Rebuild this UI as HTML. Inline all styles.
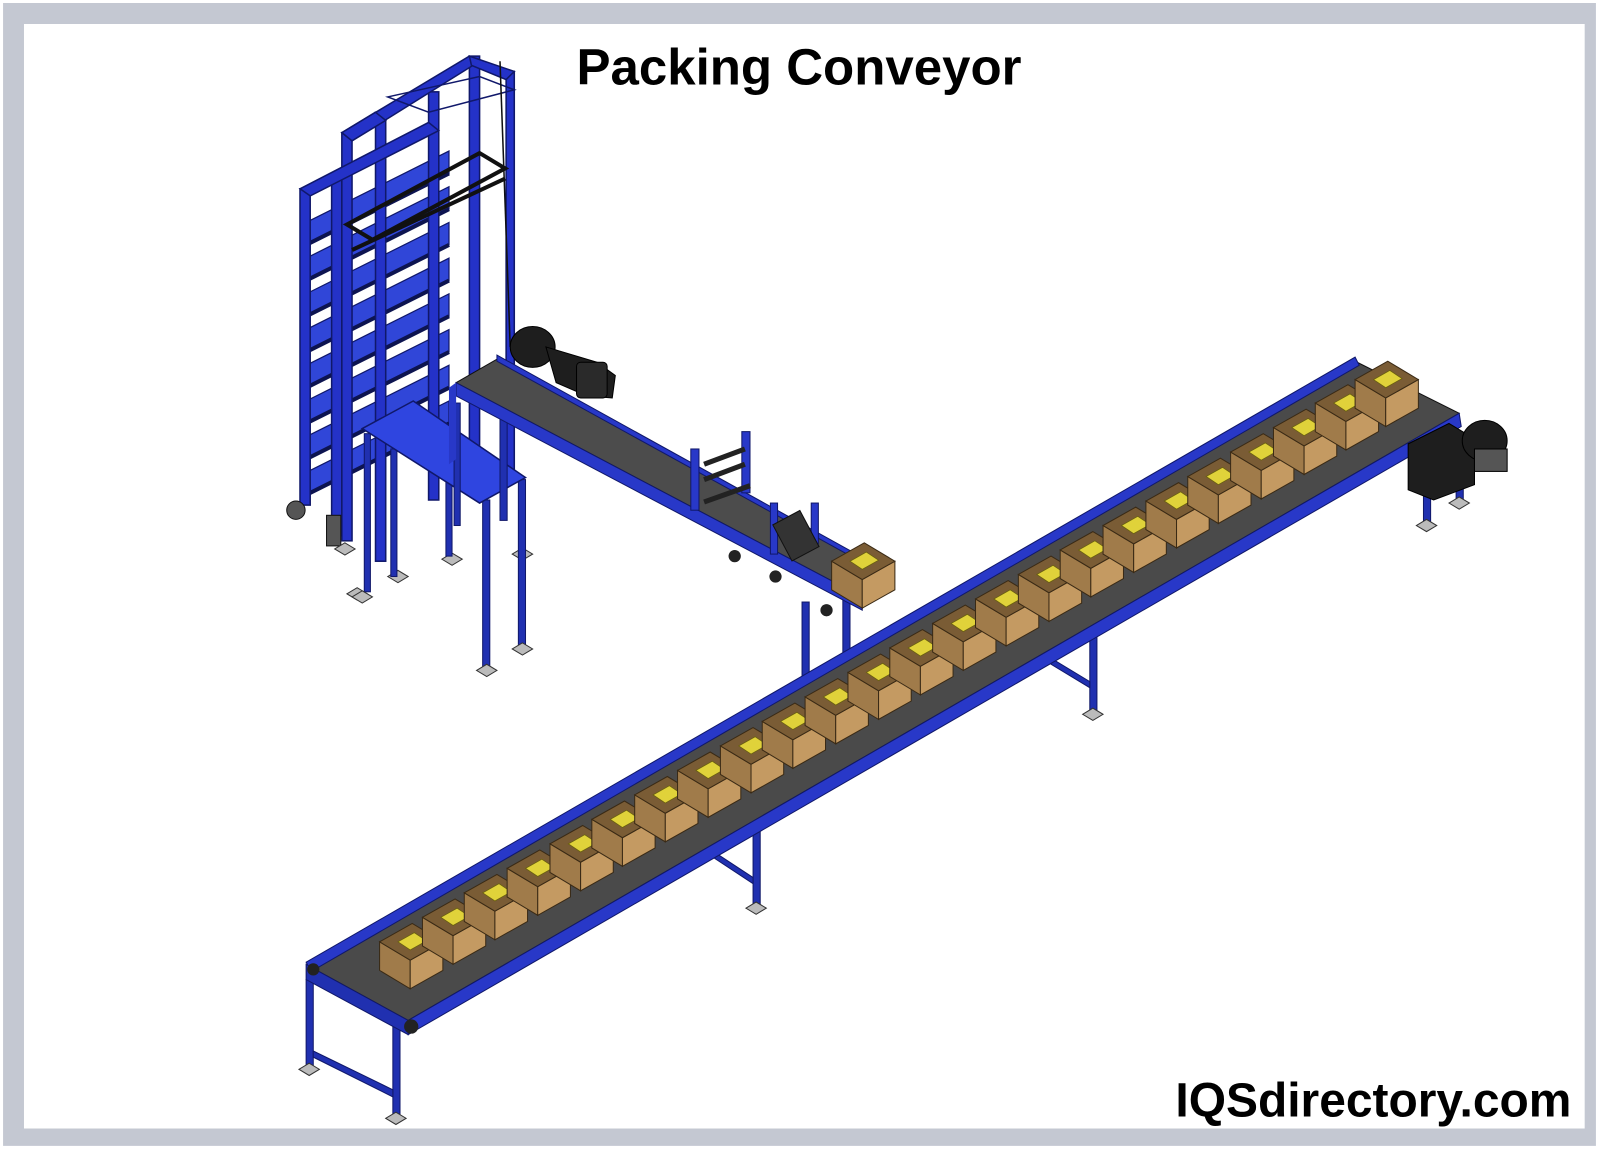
<!DOCTYPE html>
<html><head><meta charset="utf-8"><style>
html,body{margin:0;padding:0;background:#fff}
#w{position:relative;width:1600px;height:1151px;overflow:hidden;background:#fff}
</style></head><body><div id="w">
<svg width="1600" height="1151" viewBox="0 0 1568 1128" preserveAspectRatio="none" xmlns="http://www.w3.org/2000/svg">
<defs>
<g id="box">
<polygon points="0,-30 30,-12 30,16 0,-2" fill="#a07b4a" stroke="#3a2a15" stroke-width="1"/>
<polygon points="30,-12 62,-30 62,-2 30,16" fill="#c49a62" stroke="#3a2a15" stroke-width="1"/>
<polygon points="0,-30 32,-48 62,-30 30,-12" fill="#7a5c35" stroke="#3a2a15" stroke-width="1"/>
<polygon points="18,-30 34,-39 46,-31 30,-22" fill="#e0d23a" stroke="#6a6010" stroke-width="0.8"/>
</g>
<g id="foot"><polygon points="-10,0 0,-6 10,0 0,6" fill="#bbb" stroke="#333" stroke-width="1"/></g>
<g id="shelf"><polygon points="0,0 140,-70 140,-48 0,22" fill="#3046d8" stroke="#10186a" stroke-width="1.2"/><line x1="0" y1="22" x2="140" y2="-48" stroke="#0d1450" stroke-width="4"/></g>
</defs>
<rect x="0" y="0" width="1568" height="1128" fill="#fff"/>
<path fill="#c4c8d2" fill-rule="evenodd" d="M3 3 H1564 V1123 H3 Z M23.5 23.5 V1106 H1553 V23.5 Z"/>

<!-- tower -->
<use href="#shelf" x="300" y="218"/><use href="#shelf" x="300" y="253"/>
<use href="#shelf" x="300" y="288"/><use href="#shelf" x="300" y="323"/>
<use href="#shelf" x="300" y="358"/><use href="#shelf" x="300" y="393"/>
<use href="#shelf" x="300" y="428"/><use href="#shelf" x="300" y="463"/>
<g stroke="#10186a" stroke-width="1.5" fill="#2432c8">
<rect x="294" y="185" width="10" height="310"/>
<rect x="325" y="175" width="10" height="350"/>
<rect x="335" y="130" width="10" height="400"/>
<rect x="368" y="110" width="10" height="440"/>
<rect x="420" y="90" width="10" height="400"/>
<rect x="460" y="55" width="10" height="420"/>
<rect x="496" y="70" width="8" height="400"/>
<polygon points="335,130 460,55 470,60 345,138"/>
<polygon points="335,130 345,138 378,118 368,110"/>
<polygon points="294,185 420,120 430,128 304,192"/>
<polygon points="460,55 504,70 496,78 462,64"/>
<polygon points="380,95 470,75 504,88 420,110" fill="none"/>
</g>
<g stroke="#111" stroke-width="4" fill="none">
<polygon points="340,220 470,150 495,165 365,235"/>
<line x1="345" y1="245" x2="495" y2="175"/><line x1="490" y1="60" x2="500" y2="340" stroke-width="1.5"/>
</g>
<circle cx="290" cy="500" r="9" fill="#555" stroke="#111"/>
<rect x="320" y="505" width="14" height="30" fill="#555" stroke="#111"/>
<use href="#foot" x="338" y="538"/><use href="#foot" x="350" y="582"/><use href="#foot" x="390" y="565"/>
<use href="#foot" x="443" y="548"/><use href="#foot" x="512" y="543"/>

<!-- table -->
<g fill="#2030b0" stroke="#10186a">
<rect x="357" y="425" width="6" height="155"/><rect x="383" y="440" width="6" height="125"/>
<rect x="473" y="490" width="7" height="165"/><rect x="508" y="470" width="7" height="165"/>
<rect x="437" y="420" width="6" height="125"/>
</g>
<polygon points="355,420 405,393 515,468 470,493" fill="#2f45e0" stroke="#10186a" stroke-width="1.5"/>
<use href="#foot" x="355" y="585"/><use href="#foot" x="477" y="657"/><use href="#foot" x="512" y="636"/>

<g fill="#2030b0" stroke="#10186a">
<rect x="490" y="400" width="7" height="110"/><rect x="445" y="395" width="6" height="120"/>
<rect x="786" y="590" width="7" height="80"/><rect x="826" y="585" width="7" height="65"/>
</g>
<polygon points="487,352 870,565 845,585 447,375" fill="#4c4c4c" stroke="#111"/>
<polygon points="447,375 845,585 845,598 447,388" fill="#2838c8" stroke="#10186a"/>
<polygon points="487,348 870,560 872,566 487,354" fill="#2838c8" stroke="#10186a"/>
<polygon points="440,380 447,375 447,450 440,455" fill="#2838c8"/>
<g fill="#2838c8" stroke="#10186a">
<rect x="677" y="440" width="8" height="60"/><rect x="727" y="423" width="8" height="60"/>
<rect x="755" y="493" width="7" height="50"/><rect x="795" y="493" width="7" height="40"/>
</g>
<g stroke="#222" stroke-width="5"><line x1="690" y1="455" x2="730" y2="440"/><line x1="690" y1="470" x2="730" y2="455"/><line x1="690" y1="492" x2="735" y2="476"/></g>
<rect x="765" y="505" width="30" height="40" fill="#333" stroke="#111" transform="rotate(-28 780 525)"/>
<use href="#box" x="815" y="580"/>
<circle cx="720" cy="545" r="6" fill="#222"/><circle cx="760" cy="565" r="6" fill="#222"/><circle cx="810" cy="598" r="6" fill="#222"/>
<g fill="#1e1e1e" stroke="#000">
<ellipse cx="522" cy="340" rx="22" ry="20"/>
<polygon points="535,340 585,355 603,368 600,390 575,388 545,375"/>
<rect x="565" y="355" width="30" height="35" rx="4" fill="#2a2a2a"/>
</g>

<g fill="#2030b0" stroke="#10186a">
<rect x="300" y="960" width="7" height="85"/><rect x="385" y="1005" width="7" height="88"/>
<polygon points="307,1030 385,1068 385,1075 307,1036"/>
<rect x="738" y="810" width="7" height="78"/><rect x="1068" y="620" width="7" height="78"/>
<polygon points="700,835 738,860 738,866 700,841"/><polygon points="1030,645 1068,668 1068,674 1030,651"/>
<rect x="1395" y="465" width="7" height="48"/><rect x="1427" y="460" width="7" height="30"/>
</g>
<use href="#foot" x="303" y="1048"/><use href="#foot" x="388" y="1096"/>
<use href="#foot" x="741" y="890"/><use href="#foot" x="1071" y="700"/>
<use href="#foot" x="1398" y="515"/><use href="#foot" x="1430" y="493"/>

<polygon points="305,948 1330,355 1430,405 400,1000" fill="#4a4a4a" stroke="#111"/>
<polygon points="400,1000 1430,405 1432,418 400,1014" fill="#2838c8" stroke="#10186a"/>
<polygon points="300,943 1328,350 1332,358 305,952" fill="#2838c8" stroke="#10186a"/>
<polygon points="300,945 305,948 400,1000 400,1014 300,960" fill="#2030b0" stroke="#10186a"/>
<circle cx="403" cy="1006" r="7" fill="#222"/><circle cx="307" cy="950" r="6" fill="#222"/>

<use href="#box" x="372" y="953"/><use href="#box" x="414" y="929"/><use href="#box" x="455" y="905"/>
<use href="#box" x="497" y="881"/><use href="#box" x="539" y="857"/><use href="#box" x="580" y="833"/>
<use href="#box" x="622" y="809"/><use href="#box" x="664" y="785"/><use href="#box" x="706" y="761"/>
<use href="#box" x="747" y="737"/><use href="#box" x="789" y="713"/><use href="#box" x="831" y="689"/>
<use href="#box" x="872" y="665"/><use href="#box" x="914" y="641"/><use href="#box" x="956" y="617"/>
<use href="#box" x="998" y="593"/><use href="#box" x="1039" y="569"/><use href="#box" x="1081" y="545"/>
<use href="#box" x="1123" y="521"/><use href="#box" x="1164" y="497"/><use href="#box" x="1206" y="473"/>
<use href="#box" x="1248" y="449"/><use href="#box" x="1289" y="425"/><use href="#box" x="1328" y="402"/>

<g fill="#1e1e1e" stroke="#000">
<polygon points="1380,435 1420,415 1445,430 1445,475 1405,490 1380,480"/>
<ellipse cx="1455" cy="432" rx="22" ry="20"/>
<rect x="1445" y="440" width="32" height="22" fill="#555"/>
</g>

<text x="783" y="83" text-anchor="middle" font-family="Liberation Sans, sans-serif" font-weight="bold" font-size="50" fill="#000">Packing Conveyor</text>
<text x="1540" y="1094" text-anchor="end" font-family="Liberation Sans, sans-serif" font-weight="bold" font-size="47" fill="#000">IQSdirectory.com</text>
</svg>
</div></body></html>
